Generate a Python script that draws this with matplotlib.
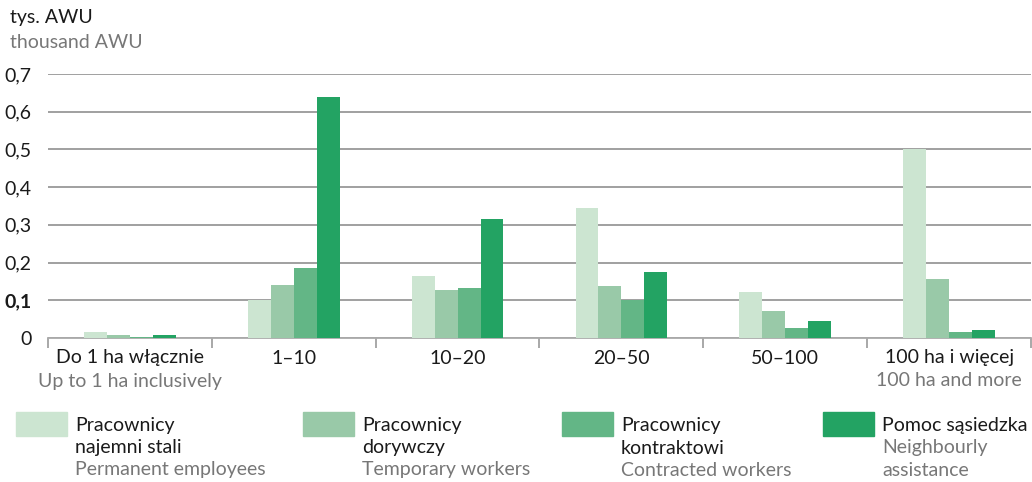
import matplotlib.pyplot as plt
import numpy as np

plt.rcParams['font.family'] = ['Lato', 'DejaVu Sans']

categories_pl = ['Do 1 ha włącznie', '1–10', '10–20', '20–50', '50–100', '100 ha i więcej']
categories_en = ['Up to 1 ha inclusively', '', '', '', '', '100 ha and more']

series_pl = [['Pracownicy', 'najemni stali'], ['Pracownicy', 'dorywczy'],
             ['Pracownicy', 'kontraktowi'], ['Pomoc sąsiedzka']]
series_en = [['Permanent employees'], ['Temporary workers'],
             ['Contracted workers'], ['Neighbourly', 'assistance']]

permanent = [0.016, 0.100, 0.164, 0.344, 0.122, 0.500]
temporary = [0.008, 0.140, 0.127, 0.138, 0.071, 0.156]
contracted = [0.002, 0.185, 0.132, 0.100, 0.026, 0.016]
neighbourly = [0.007, 0.640, 0.315, 0.175, 0.045, 0.021]

yticks = [0, 0.1, 0.2, 0.3, 0.4, 0.5, 0.6, 0.7]
ytick_labels = ['0', '0,1', '0,2', '0,3', '0,4', '0,5', '0,6', '0,7']

colors = ['#cce5d1', '#99c9a8', '#63b686', '#23a363']
dark = '#1a1a1a'
grey = '#777777'
fs = 14

fig = plt.figure(figsize=(10.32, 4.82), dpi=100)
ax = fig.add_axes([48 / 1032, 1 - 338 / 482, 983 / 1032, 264 / 482])

x = np.arange(len(categories_pl))
w = 0.14
for i, vals in enumerate([permanent, temporary, contracted, neighbourly]):
    ax.bar(x + (i - 1.5) * w, vals, width=w, color=colors[i], zorder=3, linewidth=0)

ax.set_xlim(-0.5, 5.5)
ax.set_ylim(0, 0.7)
ax.set_yticks(yticks)
ax.set_yticklabels(ytick_labels, fontsize=fs, color=dark)
ax.get_yticklabels()[1].set_fontweight('bold')
ax.tick_params(axis='y', length=0, pad=12)
ax.grid(axis='y', color='#999999', linewidth=1.3, zorder=0)

ax.set_xticks(np.arange(-0.5, 6, 1))
ax.set_xticklabels([])
ax.tick_params(axis='x', length=7, color='#999999', width=1.2)
for s in ['top', 'right', 'left']:
    ax.spines[s].set_visible(False)
ax.spines['bottom'].set_color('#aaaaaa')
ax.spines['bottom'].set_linewidth(1.3)

for i in range(len(categories_pl)):
    xf = (48 + (i + 0.5) * 983 / 6) / 1032
    fig.text(xf, 1 - 358 / 482, categories_pl[i], ha='center', va='center', fontsize=fs, color=dark)
    if categories_en[i]:
        fig.text(xf, 1 - 381 / 482, categories_en[i], ha='center', va='center', fontsize=fs, color=grey)

fig.text(10 / 1032, 1 - 18 / 482, 'tys. AWU', ha='left', va='center', fontsize=fs, color=dark)
fig.text(10 / 1032, 1 - 42 / 482, 'thousand AWU', ha='left', va='center', fontsize=fs, color=grey)

patch_x = [16, 303, 562, 823]
for i in range(4):
    fig.patches.append(plt.Rectangle((patch_x[i] / 1032, 1 - 436 / 482), 51 / 1032, 24 / 482,
                                     transform=fig.transFigure, color=colors[i]))
    tx = (patch_x[i] + 59) / 1032
    lines = [(t, dark) for t in series_pl[i]] + [(t, grey) for t in series_en[i]]
    for k, (t, c) in enumerate(lines):
        fig.text(tx, 1 - (426 + 22 * k) / 482, t, ha='left', va='center', fontsize=fs, color=c)

fig.savefig('out.png', dpi=100)
